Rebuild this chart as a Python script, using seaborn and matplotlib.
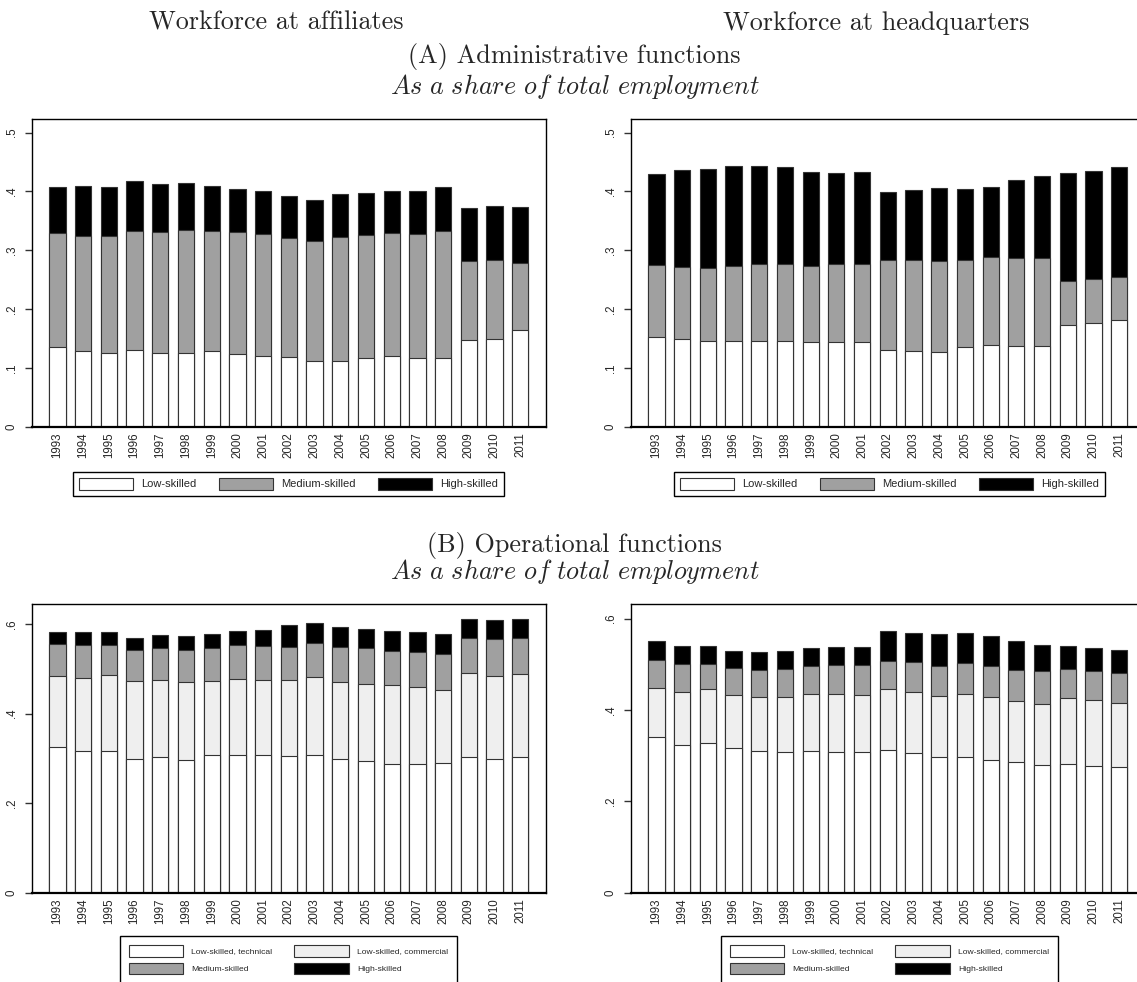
import matplotlib
matplotlib.use("Agg")
import matplotlib.pyplot as plt
from matplotlib.patches import Patch
import seaborn as sns
import numpy as np

years = list(range(1993, 2012))

# upper edges of each stacked segment (shares of total employment)
# (A) administrative functions, affiliates
aff_adm_low = [.135, .128, .125, .130, .126, .125, .129, .124, .121, .118, .112, .111, .117, .121, .117, .117, .147, .149, .164]
aff_adm_med_top = [.330, .325, .325, .333, .331, .334, .333, .331, .328, .320, .316, .323, .326, .329, .327, .333, .281, .284, .278]
aff_adm_total = [.408, .409, .408, .418, .412, .414, .409, .404, .401, .392, .385, .395, .398, .401, .400, .407, .372, .375, .373]

# (A) administrative functions, headquarters
hq_adm_low = [.152, .149, .145, .146, .145, .145, .144, .144, .144, .130, .129, .127, .135, .139, .138, .138, .173, .176, .182]
hq_adm_med_top = [.275, .272, .270, .273, .276, .276, .273, .277, .277, .283, .284, .282, .283, .289, .287, .287, .248, .251, .255]
hq_adm_total = [.429, .436, .438, .444, .444, .441, .433, .432, .433, .399, .403, .406, .405, .408, .419, .427, .431, .435, .441]

# (B) operational functions, affiliates
aff_ops_low_tech = [.325, .316, .316, .298, .303, .297, .308, .307, .307, .306, .307, .298, .293, .288, .287, .290, .302, .298, .302]
aff_ops_low_comm_top = [.483, .480, .487, .474, .476, .471, .472, .477, .475, .476, .481, .470, .467, .464, .459, .452, .491, .485, .488]
aff_ops_med_top = [.555, .553, .553, .542, .547, .543, .547, .553, .552, .550, .558, .549, .547, .541, .538, .533, .569, .566, .569]
aff_ops_total = [.583, .582, .582, .570, .576, .573, .579, .585, .587, .597, .603, .594, .590, .585, .583, .577, .611, .609, .612]

# (B) operational functions, headquarters
hq_ops_low_tech = [.340, .323, .328, .316, .310, .308, .309, .308, .307, .312, .305, .297, .296, .291, .285, .280, .282, .277, .274]
hq_ops_low_comm_top = [.447, .439, .445, .432, .428, .428, .434, .434, .433, .445, .439, .430, .434, .428, .420, .414, .426, .421, .415]
hq_ops_med_top = [.510, .501, .501, .491, .488, .490, .496, .498, .498, .508, .504, .497, .502, .496, .488, .485, .489, .485, .480]
hq_ops_total = [.552, .541, .539, .529, .526, .530, .535, .537, .537, .573, .569, .566, .569, .563, .550, .542, .539, .536, .531]

adm_labels = ["Low-skilled", "Medium-skilled", "High-skilled"]
ops_labels = ["Low-skilled, technical", "Low-skilled, commercial", "Medium-skilled", "High-skilled"]

WHITE, LIGHT, GREY, BLACK = "#ffffff", "#efefef", "#a0a0a0", "#000000"
EDGE = "#333333"

sns.set_style("white")
plt.rcParams["font.family"] = ["Liberation Sans", "DejaVu Sans"]
plt.rcParams["mathtext.fontset"] = "cm"

fig = plt.figure(figsize=(11.37, 9.82), dpi=100)


def draw_panel(ax, layers, colors, ymax, yticks, ylabels):
    # tallest layer first, the lower segments are painted over it
    for vals, col in zip(layers, colors):
        sns.barplot(x=years, y=vals, color=col, saturation=1, width=0.63,
                    edgecolor=EDGE, linewidth=0.8, errorbar=None, ax=ax)
    ax.set_xlim(-1, 19)
    ax.set_ylim(0, ymax)
    ax.set_yticks(yticks)
    ax.set_yticklabels(ylabels, rotation=90, va="center")
    ax.set_xlabel("")
    ax.set_ylabel("")
    ax.tick_params(axis="y", length=5, width=1, color=EDGE, pad=5, labelsize=8.3, left=True)
    ax.tick_params(axis="x", length=0, pad=4, labelsize=8.3, labelrotation=90)
    for s in ax.spines.values():
        s.set_color("black")
        s.set_linewidth(1.0)
    ax.spines["bottom"].set_linewidth(1.6)


W, H_TOP, H_BOT = 0.4523, 0.3138, 0.2938
ax_tl = fig.add_axes([0.0279, 0.5655, W, H_TOP])
ax_tr = fig.add_axes([0.5547, 0.5655, W, H_TOP])
ax_bl = fig.add_axes([0.0279, 0.0911, W, H_BOT])
ax_br = fig.add_axes([0.5547, 0.0911, W, H_BOT])

adm_colors = [BLACK, GREY, WHITE]
ops_colors = [BLACK, GREY, LIGHT, WHITE]
draw_panel(ax_tl, [aff_adm_total, aff_adm_med_top, aff_adm_low], adm_colors,
           0.524, [0, .1, .2, .3, .4, .5], ["0", ".1", ".2", ".3", ".4", ".5"])
draw_panel(ax_tr, [hq_adm_total, hq_adm_med_top, hq_adm_low], adm_colors,
           0.524, [0, .1, .2, .3, .4, .5], ["0", ".1", ".2", ".3", ".4", ".5"])
draw_panel(ax_bl, [aff_ops_total, aff_ops_med_top, aff_ops_low_comm_top, aff_ops_low_tech], ops_colors,
           0.645, [0, .2, .4, .6], ["0", ".2", ".4", ".6"])
draw_panel(ax_br, [hq_ops_total, hq_ops_med_top, hq_ops_low_comm_top, hq_ops_low_tech], ops_colors,
           0.632, [0, .2, .4, .6], ["0", ".2", ".4", ".6"])

# legends
adm_handles = [Patch(facecolor=c, edgecolor=EDGE, linewidth=0.8, label=l)
               for c, l in zip([WHITE, GREY, BLACK], adm_labels)]
ops_fill = dict(zip(ops_labels, [WHITE, LIGHT, GREY, BLACK]))
ops_order = [ops_labels[0], ops_labels[2], ops_labels[1], ops_labels[3]]
ops_handles = [Patch(facecolor=ops_fill[l], edgecolor=EDGE, linewidth=0.8, label=l) for l in ops_order]

for cx in (0.2537, 0.7823):
    leg = fig.legend(handles=adm_handles, loc="center", bbox_to_anchor=(cx, 0.5075), ncol=3,
                     fontsize=8, fancybox=False, edgecolor="black", framealpha=1,
                     handlelength=4.86, handleheight=1.29, handletextpad=0.75,
                     columnspacing=2.0, borderpad=0.55, borderaxespad=0)
    leg.get_frame().set_linewidth(1.0)
    leg = fig.legend(handles=ops_handles, loc="upper center", bbox_to_anchor=(cx, 0.0468), ncol=2,
                     fontsize=6.1, fancybox=False, edgecolor="black", framealpha=1,
                     handlelength=6.4, handleheight=1.75, handletextpad=1.0, labelspacing=0.72,
                     columnspacing=2.6, borderpad=1.05, borderaxespad=0)
    leg.get_frame().set_linewidth(1.0)

# titles
serif = dict(family="cmr10", size=18.8, ha="center", va="baseline")
fig.text(0.2431, 0.9695, "Workforce at affiliates", **serif)
fig.text(0.7704, 0.9695, "Workforce at headquarters", **serif)
fig.text(0.5053, 0.9362, "(A) Administrative functions", **serif)
fig.text(0.5053, 0.9043, r"$\mathit{As\ a\ share\ of\ total\ employment}$", size=18.8, ha="center", va="baseline")
fig.text(0.5053, 0.4382, "(B) Operational functions", **serif)
fig.text(0.5053, 0.4101, r"$\mathit{As\ a\ share\ of\ total\ employment}$", size=18.8, ha="center", va="baseline")

fig.savefig("out.png", dpi=100)
